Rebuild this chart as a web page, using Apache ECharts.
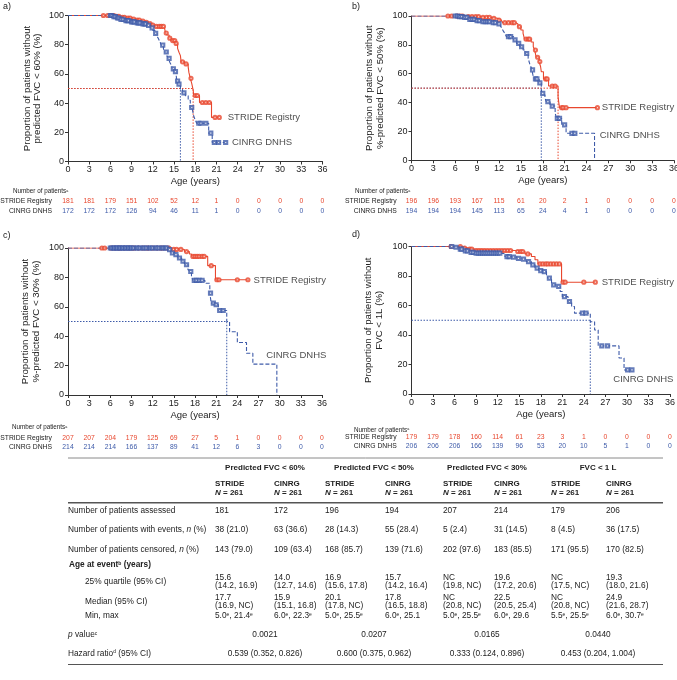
<!DOCTYPE html>
<html><head><meta charset="utf-8">
<script src="https://cdn.jsdelivr.net/npm/echarts@6/dist/echarts.min.js"></script>
<style>html,body{margin:0;padding:0;background:#fff}#c{width:677px;height:680px}</style>
</head><body><div id="c"></div>
<script>
// ---------------- DATA ----------------
const xTicks = [0,3,6,9,12,15,18,21,24,27,30,33,36];

// Kaplan-Meier steps [age, % without event]
const aStride = [[0,100],[6.8,99.4],[7.5,98.8],[8.3,98.2],[9.0,97.5],[9.6,96.8],[10.3,96.1],[10.9,95.3],[11.4,94.4],[11.8,93.5],[12.2,92.5],[13.6,91.4],[13.8,88.0],[14.0,86.6],[14.3,84.5],[14.6,82.8],[15.2,80.9],[15.5,77.5],[15.7,74.8],[15.9,72.5],[16.0,68.3],[16.5,66.8],[17.0,64.8],[17.1,61.0],[17.3,57.0],[17.5,53.5],[17.7,49.0],[17.8,45.2],[18.6,40.4],[20.3,30.2],[21.4,30.2]];
const aCinrg = [[0,100],[6.3,99.2],[6.8,98.3],[7.3,97.3],[8.0,96.5],[8.8,95.6],[9.6,94.9],[10.5,94.2],[11.2,93.2],[11.7,91.5],[12.0,89.8],[12.3,87.7],[12.6,85.8],[12.8,84.0],[13.0,82.0],[13.2,79.7],[13.5,77.0],[13.7,75.0],[14.0,72.5],[14.2,70.6],[14.4,68.0],[14.6,66.0],[14.8,63.5],[15.0,61.5],[15.3,59.0],[15.4,55.0],[15.6,53.0],[15.9,49.5],[16.2,47.0],[16.6,45.0],[17.0,42.0],[17.3,37.0],[17.6,35.3],[17.8,30.8],[18.0,28.5],[18.2,26.2],[19.9,19.4],[20.4,13.0],[22.3,13.0]];
const aStrideCens = [5.0,5.6,6.2,6.5,6.9,7.2,7.7,8.0,8.5,8.8,9.3,9.8,10.1,10.6,11.1,11.6,12.0,12.5,12.9,13.2,13.5,13.9,14.4,14.8,15.1,15.3,16.2,16.7,17.4,18.0,18.3,19.0,19.5,20.0,20.8,21.4];
const aCinrgCens = [6.0,6.2,6.5,6.7,7.0,7.2,7.5,7.8,8.2,8.4,8.6,9.0,9.2,9.4,9.8,10.0,10.2,10.6,10.8,11.0,11.4,11.9,12.4,13.4,13.9,14.3,14.9,15.2,15.5,15.7,16.4,17.5,18.5,18.8,19.5,20.2,20.7,21.3,22.3];

const bStride = [[0,100],[7.5,99.5],[9.5,99.0],[11.0,98.4],[11.8,97.2],[12.3,96.3],[12.5,95.4],[14.3,94.5],[14.6,92.6],[15.0,90.3],[15.3,88.0],[15.5,84.0],[16.4,82.0],[16.7,78.7],[16.9,76.4],[17.1,71.4],[17.5,68.4],[17.7,65.0],[17.8,61.4],[18.1,56.4],[18.8,51.5],[20.1,44.0],[20.2,40.0],[20.3,36.5],[25.5,36.5]];
const bCinrg = [[0,100],[6.5,99.6],[7.2,99.0],[7.8,97.7],[8.8,96.8],[9.6,96.0],[11.0,95.4],[11.9,94.5],[12.2,93.0],[12.4,91.5],[12.6,89.5],[12.8,88.0],[13.0,85.7],[14.0,83.4],[14.4,81.0],[14.9,78.7],[15.3,76.4],[15.6,74.0],[16.0,70.7],[16.2,67.0],[16.4,64.5],[16.5,62.6],[16.7,58.0],[16.9,56.4],[17.5,53.6],[17.8,49.0],[17.9,46.4],[18.1,45.3],[18.3,43.0],[18.5,40.6],[19.0,37.6],[19.7,32.6],[19.9,29.0],[20.6,24.5],[21.2,18.7],[25.1,0]];
const bStrideCens = [5.0,5.5,6.3,6.7,7.0,7.8,8.3,8.8,9.2,9.8,10.3,10.7,11.3,12.0,12.8,13.3,13.8,14.1,14.8,15.7,16.0,16.2,17.0,17.3,17.6,18.4,18.6,19.3,19.7,20.6,20.8,21.2,25.5];
const bCinrgCens = [6.0,6.3,6.6,6.9,7.3,7.6,8.0,8.3,8.6,9.0,9.3,9.8,10.1,10.4,10.7,11.2,11.5,12.0,13.3,13.6,14.2,14.7,15.1,15.8,16.6,17.0,17.2,17.6,18.0,18.7,19.3,20.0,20.3,21.0,22.0,22.4];

const cStride = [[0,100],[14.6,99.0],[16.5,97.6],[17.2,95.9],[17.5,94.3],[19.8,88.0],[20.9,78.4],[25.5,78.4]];
const cCinrg = [[0,100],[14.2,98.9],[14.6,96.6],[15.1,95.5],[15.6,93.2],[16.1,91.0],[16.5,88.6],[17.0,85.2],[17.2,84.0],[17.5,80.7],[17.7,78.0],[19.4,76.0],[20.1,69.3],[20.3,62.5],[20.8,61.4],[21.3,57.5],[22.5,50.0],[22.9,43.0],[24.0,35.7],[25.3,28.4],[26.2,21.0],[29.6,0]];
const cStrideCens = [4.8,5.2,6.1,6.6,7.1,7.4,8.0,8.6,9.1,9.4,10.0,10.6,11.1,11.4,12.0,12.6,13.1,13.4,14.0,14.3,15.0,15.4,16.0,16.8,17.7,18.0,18.3,18.6,19.0,19.3,20.3,21.1,21.4,24.0,25.5];
const cCinrgCens = [6.0,6.2,6.5,6.6,6.9,7.0,7.3,7.4,7.7,7.8,8.1,8.2,8.5,8.6,8.9,9.0,9.3,9.7,9.9,10.2,10.6,10.8,11.1,11.5,11.7,12.0,12.4,12.6,12.9,13.3,13.5,13.8,14.0,14.4,14.8,15.3,15.8,16.3,16.8,17.4,17.9,18.2,18.6,19.0,20.2,20.6,21.0,21.5,22.0];

const dStride = [[0,100],[7.0,98.9],[7.9,98.2],[8.8,97.3],[14.4,96.6],[15.8,95.0],[16.7,93.2],[17.2,91.0],[17.6,88.2],[20.9,75.8],[25.6,75.8]];
const dCinrg = [[0,100],[6.0,99.5],[6.5,98.2],[7.2,97.0],[8.1,96.0],[8.8,95.5],[12.5,95.0],[13.0,93.2],[13.9,92.8],[14.6,92.0],[15.3,91.4],[16.0,89.8],[16.7,87.6],[17.2,85.3],[17.7,83.7],[18.3,83.0],[18.8,80.8],[19.0,78.5],[19.5,74.0],[20.3,72.9],[20.7,69.5],[21.0,66.0],[21.8,62.7],[22.3,59.3],[22.7,54.8],[24.9,49.0],[25.5,43.4],[26.0,32.6],[28.9,24.4],[29.6,16.3],[30.7,16.3]];
const dStrideCens = [5.5,6.8,7.4,8.1,8.4,9.0,9.4,9.8,10.2,10.6,11.0,11.4,11.8,12.2,12.6,13.0,13.4,13.8,14.8,15.2,15.5,16.2,17.9,18.3,18.7,19.0,19.4,19.8,20.2,20.6,21.1,21.4,24.0,25.6];
const dCinrgCens = [5.6,6.2,6.8,7.0,7.5,7.8,8.3,8.6,9.0,9.3,9.6,9.9,10.2,10.5,10.8,11.1,11.4,11.7,12.0,12.3,13.3,13.6,14.2,14.9,15.6,16.3,16.9,17.5,18.0,18.5,19.2,19.8,20.5,21.3,22.0,23.8,24.3,26.5,27.3,30.1,30.7];

const medStride = [17.7, 20.1, null, null];
const medCinrg = [15.9, 17.8, 22.5, 24.9];

// Number of patients at risk (per tick)
const aRiskStride = [181,181,179,151,102,52,12,1,0,0,0,0,0];
const aRiskCinrg  = [172,172,172,126,94,46,11,1,0,0,0,0,0];
const bRiskStride = [196,196,193,167,115,61,20,2,1,0,0,0,0];
const bRiskCinrg  = [194,194,194,145,113,65,24,4,1,0,0,0,0];
const cRiskStride = [207,207,204,179,125,69,27,5,1,0,0,0,0];
const cRiskCinrg  = [214,214,214,166,137,89,41,12,6,3,0,0,0];
const dRiskStride = [179,179,178,160,114,61,23,3,1,0,0,0,0];
const dRiskCinrg  = [206,206,206,166,139,96,53,20,10,5,1,0,0];

const yTitles = [
  ['Proportion of patients without','predicted FVC < 60% (%)'],
  ['Proportion of patients without','%-predicted FVC < 50% (%)'],
  ['Proportion of patients without','%-predicted FVC < 30% (%)'],
  ['Proportion of patients without','FVC < 1L (%)']
];

// Summary table
const tableGroups = ['Predicted FVC < 60%','Predicted FVC < 50%','Predicted FVC < 30%','FVC < 1 L'];
const tableCohorts = ['STRIDE','CINRG','STRIDE','CINRG','STRIDE','CINRG','STRIDE','CINRG'];
const tableN = [261,261,261,261,261,261,261,261];
const rowAssessed = ['181','172','196','194','207','214','179','206'];
const rowEvents = ['38 (21.0)','63 (36.6)','28 (14.3)','55 (28.4)','5 (2.4)','31 (14.5)','8 (4.5)','36 (17.5)'];
const rowCensored = ['143 (79.0)','109 (63.4)','168 (85.7)','139 (71.6)','202 (97.6)','183 (85.5)','171 (95.5)','170 (82.5)'];
const rowQ25 = [['15.6','(14.2, 16.9)'],['14.0','(12.7, 14.6)'],['16.9','(15.6, 17.8)'],['15.7','(14.2, 16.4)'],['NC','(19.8, NC)'],['19.6','(17.2, 20.6)'],['NC','(17.5, NC)'],['19.3','(18.0, 21.6)']];
const rowMedian = [['17.7','(16.9, NC)'],['15.9','(15.1, 16.8)'],['20.1','(17.8, NC)'],['17.8','(16.5, 18.8)'],['NC','(20.8, NC)'],['22.5','(20.5, 25.4)'],['NC','(20.8, NC)'],['24.9','(21.6, 28.7)']];
const rowMinMax = ['5.0^, 21.4^','6.0^, 22.3^','5.0^, 25.5^','6.0^, 25.1','5.0^, 25.5^','6.0^, 29.6','5.5^, 25.5^','6.0^, 30.7^'];
const rowP = ['0.0021','0.0207','0.0165','0.0440'];
const rowHR = ['0.539 (0.352, 0.826)','0.600 (0.375, 0.962)','0.333 (0.124, 0.896)','0.453 (0.204, 1.004)'];

// ---------------- STYLE / LAYOUT ----------------
const RED = '#E8472E', BLUE = '#3E5BA9', INK = '#222', AX = '#333';
const FONT = '"Liberation Sans", Arial, Helvetica, sans-serif';

const layout = [
  {left:68, top:15.5, width:254.5, height:146, nameGap:25, rowS:201, rowC:210.7, lab:'a)', labX:3, labY:7, nopX:13, nopY:191.7, rowLabX:52,
   sLab:[22.6,30.5], cLab:[23.2,12.9]},
  {left:411.5, top:16, width:262.5, height:144.3, nameGap:26, rowS:201.3, rowC:210.7, lab:'b)', labX:352, labY:7, nopX:355, nopY:191.7, rowLabX:396.7,
   sLab:[26.1,36.5], cLab:[25.8,17.5]},
  {left:68, top:248, width:254, height:147, nameGap:26.5, rowS:437.7, rowC:446.7, lab:'c)', labX:3, labY:236, nopX:12, nopY:427.7, rowLabX:52,
   sLab:[26.3,77.8], cLab:[28.1,27.2]},
  {left:411.5, top:246.5, width:258.5, height:147.5, nameGap:27, rowS:437.5, rowC:446.5, lab:'d)', labX:352, labY:235, nopX:354, nopY:430, rowLabX:396.7,
   sLab:[26.5,75.8], cLab:[28.1,10]}
];

const panels = [
  {stride:aStride, cinrg:aCinrg, sC:aStrideCens, cC:aCinrgCens, rS:aRiskStride, rC:aRiskCinrg},
  {stride:bStride, cinrg:bCinrg, sC:bStrideCens, cC:bCinrgCens, rS:bRiskStride, rC:bRiskCinrg},
  {stride:cStride, cinrg:cCinrg, sC:cStrideCens, cC:cCinrgCens, rS:cRiskStride, rC:cRiskCinrg},
  {stride:dStride, cinrg:dCinrg, sC:dStrideCens, cC:dCinrgCens, rS:dRiskStride, rC:dRiskCinrg}
];

function stepAt(curve, t) {
  let y = curve[0][1];
  for (const [x, v] of curve) { if (x <= t) y = v; else break; }
  return y;
}

const grid = [], xAxis = [], yAxis = [], series = [], graphic = [];

function txt(x, y, text, o) {
  o = o || {};
  graphic.push({type:'text', x:x, y:y, silent:true, z:10, style:{
    text:text, fontSize:o.size || 8.3, fontFamily:FONT, fontWeight:o.bold ? 'bold' : 'normal',
    fontStyle:o.italic ? 'italic' : 'normal',
    fill:o.color || INK, align:o.align || 'left', verticalAlign:'middle', lineHeight:o.lh,
    rich:Object.assign({
      sup:{fontSize:(o.size || 8.3) * 0.6, fontFamily:FONT, fill:o.color || INK, verticalAlign:'top', padding:[0,0,0,0]},
      i:{fontSize:o.size || 8.3, fontFamily:FONT, fontStyle:'italic', fontWeight:o.bold ? 'bold' : 'normal', fill:o.color || INK},
      b:{fontSize:o.size || 8.3, fontFamily:FONT, fontWeight:'bold', fill:o.color || INK}
    }, o.rich || {})
  }});
}
function hline(x1, x2, y, w, c) {
  graphic.push({type:'line', silent:true, shape:{x1:x1, y1:y, x2:x2, y2:y}, style:{stroke:c, lineWidth:w}});
}

panels.forEach((p, i) => {
  const L = layout[i];
  const bottom = L.top + L.height;
  grid.push({left:L.left, top:L.top, width:L.width, height:L.height, containLabel:false, outerBoundsMode:'none'});
  const xi = xAxis.length;
  xAxis.push({gridIndex:i, type:'value', min:0, max:36, interval:3, position:'bottom',
    axisLine:{show:true, onZero:false, lineStyle:{color:AX, width:1}},
    axisTick:{show:true, length:3, lineStyle:{color:AX}},
    axisLabel:{fontSize:9, color:INK, margin:4, fontFamily:FONT},
    splitLine:{show:false},
    name:'Age (years)', nameLocation:'middle', nameGap:15,
    nameTextStyle:{fontSize:9.5, color:INK, fontFamily:FONT}});
  [[p.rS, RED, L.rowS], [p.rC, BLUE, L.rowC]].forEach(([arr, col, rowY]) => {
    xAxis.push({gridIndex:i, type:'value', min:0, max:36, interval:3, position:'bottom', offset:rowY - bottom,
      axisLine:{show:false}, axisTick:{show:false}, splitLine:{show:false},
      axisLabel:{show:true, margin:0, verticalAlign:'middle', fontSize:6.8, color:col, fontFamily:FONT,
        showMinLabel:true, showMaxLabel:true,
        formatter:v => String(arr[xTicks.indexOf(Math.round(v))])}});
  });
  yAxis.push({gridIndex:i, type:'value', min:0, max:100, interval:20,
    axisLine:{show:true, lineStyle:{color:AX, width:1}},
    axisTick:{show:true, length:3, lineStyle:{color:AX}},
    axisLabel:{fontSize:9, color:INK, margin:4, fontFamily:FONT},
    splitLine:{show:false},
    name:yTitles[i].join('\n'), nameLocation:'middle', nameRotate:90, nameGap:L.nameGap,
    nameTextStyle:{fontSize:9.7, lineHeight:10.5, color:INK, fontFamily:FONT}});

  const base = {xAxisIndex:xi, yAxisIndex:i, animation:false, silent:true};
  if (medCinrg[i] != null) series.push(Object.assign({}, base, {type:'line', symbol:'none', z:1,
    data:[[0,50],[medCinrg[i],50],[medCinrg[i],0]], lineStyle:{color:BLUE, width:1, type:[1.5,1.5]}}));
  if (medStride[i] != null) series.push(Object.assign({}, base, {type:'line', symbol:'none', z:1,
    data:[[0,50],[medStride[i],50],[medStride[i],0]], lineStyle:{color:RED, width:1, type:[1.5,1.5]}}));
  series.push(Object.assign({}, base, {type:'line', step:'end', symbol:'none', z:3, data:p.stride,
    lineStyle:{color:RED, width:1.1}}));
  series.push(Object.assign({}, base, {type:'line', step:'end', symbol:'none', z:3, data:p.cinrg,
    lineStyle:{color:BLUE, width:1.1, type:[4,2]}}));
  series.push(Object.assign({}, base, {type:'scatter', z:4, symbol:'emptyCircle', symbolSize:3.2,
    data:p.sC.map(t => [t, stepAt(p.stride, t)]), itemStyle:{color:RED, borderColor:RED, borderWidth:1}}));
  series.push(Object.assign({}, base, {type:'scatter', z:4, symbol:'emptyRect', symbolSize:3.2,
    data:p.cC.map(t => [t, stepAt(p.cinrg, t)]), itemStyle:{color:BLUE, borderColor:BLUE, borderWidth:1}}));
  [[L.sLab, 'STRIDE Registry'], [L.cLab, 'CINRG DNHS']].forEach(([pos, name]) => {
    series.push(Object.assign({}, base, {type:'scatter', symbolSize:0, z:5, data:[pos],
      label:{show:true, position:'right', distance:0, formatter:name, fontSize:9.5, color:INK, fontFamily:FONT}}));
  });

  // panel letter + risk table labels
  txt(L.labX, L.labY, L.lab, {size:9});
  txt(L.nopX, L.nopY, 'Number of patients{sup|a}', {size:6.3});
  txt(L.rowLabX, L.rowS, 'STRIDE Registry', {size:6.8, align:'right'});
  txt(L.rowLabX, L.rowC, 'CINRG DNHS', {size:6.8, align:'right'});
});

// ---------------- SUMMARY TABLE ----------------
const colX = [215, 274, 325, 385, 443, 494, 551, 606];
const grpX = [265, 374, 487, 598];
const tL = 68, tR = 663;
hline(tL, tR, 458, 1, '#8a8a8a');
tableGroups.forEach((g, k) => txt(grpX[k], 467.7, g, {bold:true, size:8, align:'center'}));
tableCohorts.forEach((c, k) => {
  txt(colX[k], 483.3, c, {bold:true, size:8});
  txt(colX[k], 492.7, '{bi|N} = ' + tableN[k], {bold:true, size:8, rich:{bi:{fontSize:8, fontFamily:FONT, fontStyle:'italic', fontWeight:'bold', fill:INK}}});
});
hline(tL, tR, 502.7, 1.6, '#555');

txt(tL, 511, 'Number of patients assessed');
txt(tL, 530, 'Number of patients with events, {i|n} (%)');
txt(tL, 549.3, 'Number of patients censored, {i|n} (%)');
txt(tL + 1, 565, 'Age at event{sup|b} (years)', {bold:true, rich:{sup:{fontSize:5, fontFamily:FONT, fontWeight:'bold', fill:INK, verticalAlign:'top'}}});
txt(85, 581.7, '25% quartile (95% CI)');
txt(85, 601.7, 'Median (95% CI)');
txt(85, 616, 'Min, max');
txt(tL, 635, '{i|p} value{sup|c}');
txt(tL, 653.3, 'Hazard ratio{sup|d} (95% CI)');

colX.forEach((x, k) => {
  txt(x, 511, rowAssessed[k]);
  txt(x, 530, rowEvents[k]);
  txt(x, 549.3, rowCensored[k]);
  txt(x, 577.7, rowQ25[k][0]); txt(x, 586.2, rowQ25[k][1]);
  txt(x, 597.3, rowMedian[k][0]); txt(x, 605.8, rowMedian[k][1]);
  txt(x, 616, rowMinMax[k].replace(/\^/g, '{sup|e}'));
});
grpX.forEach((x, k) => {
  txt(x, 635, rowP[k], {align:'center'});
  txt(x, 653.3, rowHR[k], {align:'center'});
});
hline(tL, tR, 664.5, 1.2, '#555');

const chart = echarts.init(document.getElementById('c'), null, {renderer:'canvas', width:677, height:680});
chart.setOption({
  backgroundColor:'#fff', animation:false,
  textStyle:{fontFamily:FONT},
  grid:grid, xAxis:xAxis, yAxis:yAxis, series:series, graphic:graphic
});
</script></body></html>
